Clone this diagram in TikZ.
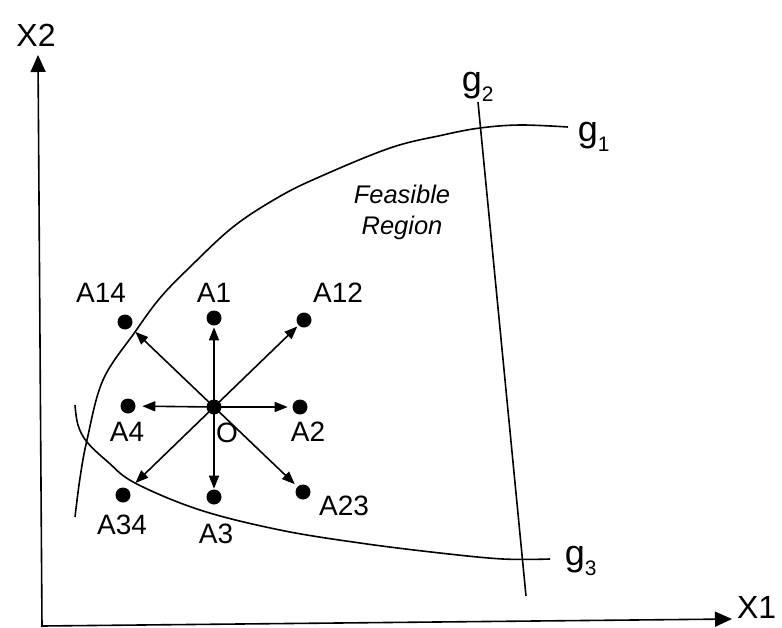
\documentclass[tikz,border=0pt]{standalone}
\usepackage{fontspec}
\setmainfont{Liberation Sans}
\usetikzlibrary{arrows.meta}
\newcommand{\gsub}[1]{\raisebox{-0.28em}{\fontsize{21}{21}\selectfont #1}}
\begin{document}
\begin{tikzpicture}[x=1pt,y=-1pt,
  line width=1.6pt,
  dotnode/.style={circle,fill=black,inner sep=0pt,minimum size=15pt},
  arr/.style={-{Triangle[length=13pt,width=10pt]}},
  axarr/.style={-{Triangle[length=17pt,width=15pt]}},
  lab/.style={font=\fontsize{28}{30}\selectfont,inner sep=0pt},
  axlab/.style={font=\fontsize{32}{34}\selectfont,inner sep=0pt},
  glab/.style={font=\fontsize{36}{38}\selectfont,inner sep=0pt,anchor=base west},
  fr/.style={font=\fontsize{25.5}{31}\selectfont\itshape,inner sep=0pt,align=center}]
\useasboundingbox (0,0) rectangle (782,627);
% axes
\coordinate (orig) at (42,627);
\coordinate (ytip) at (38,55);
\coordinate (xtip) at (732,619);
\coordinate (xstart) at (42,626);
\draw[axarr] (orig) -- (ytip);
\draw[axarr] (xstart) -- (xtip);
\node[axlab] (X2) at (36,35) {X2};
\node[axlab,anchor=east] (X1) at (777,607) {X1};
% constraints
\draw plot[smooth,tension=0.6] coordinates {(75,517) (80,478) (87,440) (103,380) (135,332) (160,298) (190,267) (233,227) (277,198) (317,178) (390,148) (443,135) (480,128) (520,125) (568,127)};
\draw plot[smooth,tension=0.6] coordinates {(75,405) (78,425) (87,442) (108,462) (135,483) (200,510) (280,530) (360,543) (440,553) (503,559) (550,559)};
\coordinate (g2top) at (478,102);
\coordinate (g2bot) at (526,596);
\draw (g2top) -- (g2bot);
\node[glab] (g1) at (577,141) {g\gsub{1}};
\node[glab] (g2) at (461,91) {g\gsub{2}};
\node[glab] (g3) at (564,565) {g\gsub{3}};
\node[fr] (FR) at (402,212) {Feasible\\Region};
% points
\node[dotnode] (O) at (214,407) {};
\node[dotnode] (A1) at (214,318) {};
\node[dotnode] (A12) at (304,320) {};
\node[dotnode] (A14) at (125,322) {};
\node[dotnode] (A4) at (128,406) {};
\node[dotnode] (A2) at (300,407) {};
\node[dotnode] (A34) at (123,495) {};
\node[dotnode] (A3) at (214,497) {};
\node[dotnode] (A23) at (303,492) {};
\draw[arr,shorten >=1pt] (O.center) -- (A1);
\draw[arr,shorten >=1pt] (O.center) -- (A12);
\draw[arr,shorten >=6pt] (O.center) -- (A14);
\draw[arr,shorten >=6pt] (O.center) -- (A4);
\draw[arr,shorten >=4pt] (O.center) -- (A2);
\draw[arr,shorten >=9pt] (O.center) -- (A34);
\draw[arr,shorten >=0pt] (O.center) -- (A3);
\draw[arr,shorten >=3pt] (O.center) -- (A23);
% labels
\node[lab] (lA14) at (101,293) {A14};
\node[lab] (lA1) at (214,293) {A1};
\node[lab] (lA12) at (338,293) {A12};
\node[lab] (lA4) at (127,432) {A4};
\node[lab] (lO) at (227,433) {O};
\node[lab] (lA2) at (308,432) {A2};
\node[lab] (lA34) at (122,525) {A34};
\node[lab] (lA3) at (216,534) {A3};
\node[lab] (lA23) at (344,506) {A23};
\end{tikzpicture}
\end{document}
